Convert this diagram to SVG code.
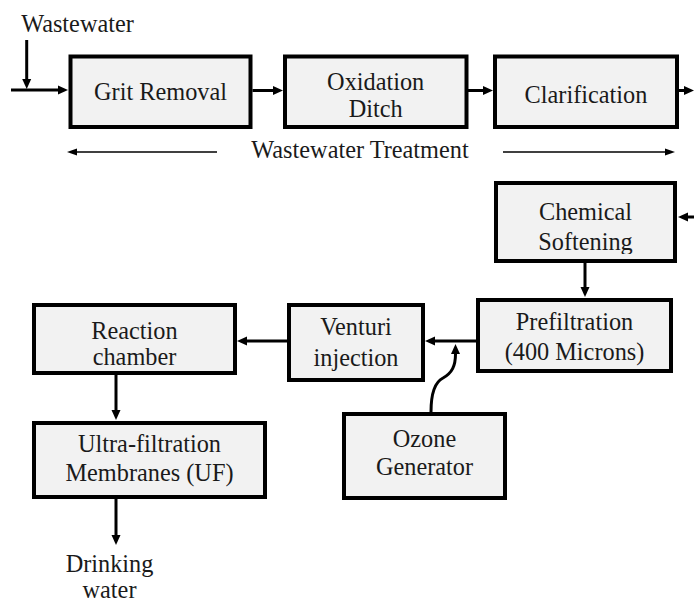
<svg xmlns="http://www.w3.org/2000/svg" width="694" height="603" viewBox="0 0 694 603">
<style>
.box{fill:#f2f2f2;stroke:#000;stroke-width:4}
.t{font-family:'Liberation Serif','Times New Roman',serif;font-size:24.3px;fill:#1a1a1a;text-anchor:middle}
.c{fill:none;stroke:#000;stroke-width:3}
.thin{fill:none;stroke:#000;stroke-width:1.5}
</style>
<defs>
<marker id="ah" markerUnits="userSpaceOnUse" markerWidth="12" markerHeight="10" viewBox="0 -5 12 10" refX="0" refY="0" orient="auto">
<path d="M0,-4.5 L10,0 L0,4.5 z" fill="#000"/>
</marker>
<marker id="ahs" markerUnits="userSpaceOnUse" markerWidth="12" markerHeight="10" viewBox="0 -5 12 10" refX="0" refY="0" orient="auto">
<path d="M0,-3.5 L10,0 L0,3.5 z" fill="#000"/>
</marker>
<clipPath id="chemclip"><rect x="496" y="183" width="179" height="71"/></clipPath>
</defs>
<g id="connectors">
<line class="c" x1="11" y1="90" x2="58" y2="90" marker-end="url(#ah)"/>
<line class="c" x1="26.7" y1="40" x2="26.7" y2="79" marker-end="url(#ah)"/>
<line class="c" x1="252.5" y1="90.5" x2="273" y2="90.5" marker-end="url(#ah)"/>
<line class="c" x1="468" y1="90.5" x2="483" y2="90.5" marker-end="url(#ah)"/>
<line class="c" x1="679" y1="90.5" x2="684" y2="90.5" marker-end="url(#ah)"/>
<line class="c" x1="694" y1="217" x2="688" y2="217" marker-end="url(#ah)"/>
<line class="c" x1="585" y1="263" x2="585" y2="287" marker-end="url(#ah)"/>
<line class="c" x1="476" y1="341" x2="435" y2="341" marker-end="url(#ah)"/>
<path class="c" d="M431,412 C431,395 435,382 443,378 C452,373 455.5,366 455.5,354" marker-end="url(#ah)"/>
<line class="c" x1="287" y1="341" x2="247" y2="341" marker-end="url(#ah)"/>
<line class="c" x1="116" y1="375" x2="116" y2="410" marker-end="url(#ah)"/>
<line class="c" x1="116" y1="499" x2="116" y2="535" marker-end="url(#ah)"/>
<line class="thin" x1="217" y1="152" x2="77" y2="152" marker-end="url(#ahs)"/>
<line class="thin" x1="503" y1="152" x2="665" y2="152" marker-end="url(#ahs)"/>
</g>
<g id="grit"><rect class="box" x="70.5" y="56.5" width="180" height="70.5"/><text class="t" x="160.5" y="100">Grit Removal</text></g>
<g id="oxidation"><rect class="box" x="285" y="56.5" width="181.5" height="70.5"/><text class="t" x="375.7" y="90">Oxidation</text><text class="t" x="375.7" y="117">Ditch</text></g>
<g id="clarification"><rect class="box" x="495" y="56.5" width="182" height="70.5"/><text class="t" x="586" y="103">Clarification</text></g>
<g id="chemical"><rect class="box" x="496" y="183" width="179" height="78"/><g clip-path="url(#chemclip)"><text class="t" x="585.5" y="220">Chemical</text><text class="t" x="585.5" y="250">Softening</text></g></g>
<g id="prefiltration"><rect class="box" x="478" y="300" width="193" height="71"/><text class="t" x="574.5" y="330">Prefiltration</text><text class="t" x="574.5" y="360">(400 Microns)</text></g>
<g id="venturi"><rect class="box" x="289" y="305" width="134" height="75"/><text class="t" x="356" y="335">Venturi</text><text class="t" x="356" y="366">injection</text></g>
<g id="reaction"><rect class="box" x="34" y="305" width="201" height="68"/><text class="t" x="134.5" y="339">Reaction</text><text class="t" x="134.5" y="365">chamber</text></g>
<g id="uf"><rect class="box" x="34" y="423" width="231" height="74"/><text class="t" x="149.5" y="452">Ultra-filtration</text><text class="t" x="149.5" y="481">Membranes (UF)</text></g>
<g id="ozone"><rect class="box" x="344" y="414" width="161" height="84"/><text class="t" x="424.5" y="447">Ozone</text><text class="t" x="424.5" y="475">Generator</text></g>
<g id="labels">
<text class="t" x="77.5" y="32">Wastewater</text>
<text class="t" x="360" y="158">Wastewater Treatment</text>
<text class="t" x="109.5" y="572">Drinking</text>
<text class="t" x="109.5" y="598">water</text>
</g>
</svg>
